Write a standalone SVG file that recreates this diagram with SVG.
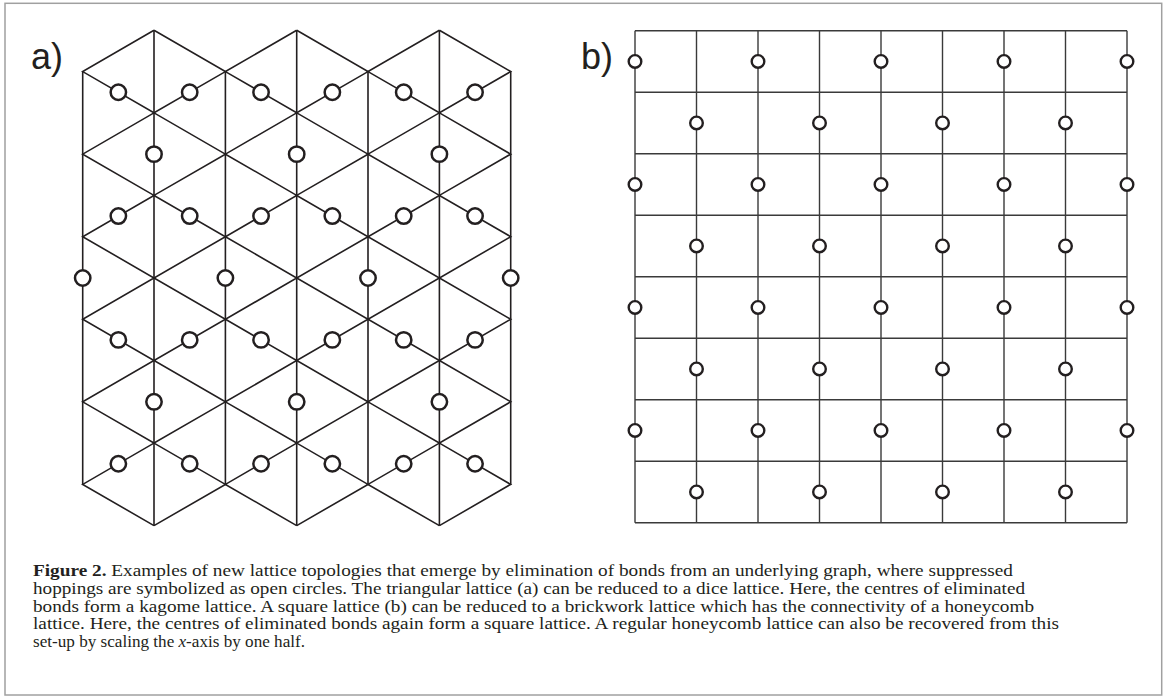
<svg xmlns="http://www.w3.org/2000/svg" width="1168" height="697" viewBox="0 0 1168 697">
<style>
.frame{fill:none;stroke:#a0a0a0;stroke-width:1.5}
.la{fill:none;stroke:#231f20;stroke-width:1.6;stroke-linejoin:miter}
.lb{fill:none;stroke:#3a3a3a;stroke-width:1.4}
.ca{fill:#fff;stroke:#231f20;stroke-width:2.5}
.cb{fill:#fff;stroke:#231f20;stroke-width:2.4}
.lbl{font-family:"Liberation Sans",Arial,sans-serif;font-size:36px;fill:#231f20}
.cap{font-family:"Liberation Serif","Times New Roman",serif;font-size:16.8px;fill:#231f20}
</style>
<rect class="frame" x="5" y="3.3" width="1156.7" height="691.7"/>
<g id="label-a"><text class="lbl" x="31" y="69">a)</text></g>
<g id="label-b"><text class="lbl" x="581" y="69">b)</text></g>
<g id="panel-a-bonds">
<path class="la" d="M82.7 71.58V484.38M154 30.3V525.66M225.4 71.58V484.38M296.7 30.3V525.66M368 71.58V484.38M439.4 30.3V525.66M510.7 71.58V484.38"/>
<polyline class="la" points="154,30.3 82.7,71.58 154,112.86 82.7,154.14 154,195.42 82.7,236.7 154,277.98 82.7,319.26 154,360.54 82.7,401.82 154,443.1 82.7,484.38 154,525.66"/>
<polyline class="la" points="154,30.3 225.4,71.58 154,112.86 225.4,154.14 154,195.42 225.4,236.7 154,277.98 225.4,319.26 154,360.54 225.4,401.82 154,443.1 225.4,484.38 154,525.66"/>
<polyline class="la" points="296.7,30.3 225.4,71.58 296.7,112.86 225.4,154.14 296.7,195.42 225.4,236.7 296.7,277.98 225.4,319.26 296.7,360.54 225.4,401.82 296.7,443.1 225.4,484.38 296.7,525.66"/>
<polyline class="la" points="296.7,30.3 368,71.58 296.7,112.86 368,154.14 296.7,195.42 368,236.7 296.7,277.98 368,319.26 296.7,360.54 368,401.82 296.7,443.1 368,484.38 296.7,525.66"/>
<polyline class="la" points="439.4,30.3 368,71.58 439.4,112.86 368,154.14 439.4,195.42 368,236.7 439.4,277.98 368,319.26 439.4,360.54 368,401.82 439.4,443.1 368,484.38 439.4,525.66"/>
<polyline class="la" points="439.4,30.3 510.7,71.58 439.4,112.86 510.7,154.14 439.4,195.42 510.7,236.7 439.4,277.98 510.7,319.26 439.4,360.54 510.7,401.82 439.4,443.1 510.7,484.38 439.4,525.66"/>
</g>
<g id="panel-a-circles">
<circle class="ca" cx="118.35" cy="92.22" r="7.7"/><circle class="ca" cx="189.7" cy="92.22" r="7.7"/><circle class="ca" cx="261.05" cy="92.22" r="7.7"/><circle class="ca" cx="332.35" cy="92.22" r="7.7"/><circle class="ca" cx="403.7" cy="92.22" r="7.7"/><circle class="ca" cx="475.05" cy="92.22" r="7.7"/>
<circle class="ca" cx="154" cy="154.14" r="7.7"/><circle class="ca" cx="296.7" cy="154.14" r="7.7"/><circle class="ca" cx="439.4" cy="154.14" r="7.7"/>
<circle class="ca" cx="118.35" cy="216.06" r="7.7"/><circle class="ca" cx="189.7" cy="216.06" r="7.7"/><circle class="ca" cx="261.05" cy="216.06" r="7.7"/><circle class="ca" cx="332.35" cy="216.06" r="7.7"/><circle class="ca" cx="403.7" cy="216.06" r="7.7"/><circle class="ca" cx="475.05" cy="216.06" r="7.7"/>
<circle class="ca" cx="82.7" cy="277.98" r="7.7"/><circle class="ca" cx="225.4" cy="277.98" r="7.7"/><circle class="ca" cx="368" cy="277.98" r="7.7"/><circle class="ca" cx="510.7" cy="277.98" r="7.7"/>
<circle class="ca" cx="118.35" cy="339.9" r="7.7"/><circle class="ca" cx="189.7" cy="339.9" r="7.7"/><circle class="ca" cx="261.05" cy="339.9" r="7.7"/><circle class="ca" cx="332.35" cy="339.9" r="7.7"/><circle class="ca" cx="403.7" cy="339.9" r="7.7"/><circle class="ca" cx="475.05" cy="339.9" r="7.7"/>
<circle class="ca" cx="154" cy="401.82" r="7.7"/><circle class="ca" cx="296.7" cy="401.82" r="7.7"/><circle class="ca" cx="439.4" cy="401.82" r="7.7"/>
<circle class="ca" cx="118.35" cy="463.74" r="7.7"/><circle class="ca" cx="189.7" cy="463.74" r="7.7"/><circle class="ca" cx="261.05" cy="463.74" r="7.7"/><circle class="ca" cx="332.35" cy="463.74" r="7.7"/><circle class="ca" cx="403.7" cy="463.74" r="7.7"/><circle class="ca" cx="475.05" cy="463.74" r="7.7"/>
</g>
<g id="panel-b-bonds">
<path class="lb" d="M635 30.7V522.7M696.5 30.7V522.7M758 30.7V522.7M819.5 30.7V522.7M881 30.7V522.7M942.5 30.7V522.7M1004 30.7V522.7M1065.5 30.7V522.7M1127 30.7V522.7"/>
<path class="lb" d="M635 30.7H1127M635 92.2H1127M635 153.7H1127M635 215.2H1127M635 276.7H1127M635 338.2H1127M635 399.7H1127M635 461.2H1127M635 522.7H1127"/>
</g>
<g id="panel-b-circles">
<circle class="cb" cx="635" cy="61.45" r="6.3"/><circle class="cb" cx="758" cy="61.45" r="6.3"/><circle class="cb" cx="881" cy="61.45" r="6.3"/><circle class="cb" cx="1004" cy="61.45" r="6.3"/><circle class="cb" cx="1127" cy="61.45" r="6.3"/>
<circle class="cb" cx="696.5" cy="122.95" r="6.3"/><circle class="cb" cx="819.5" cy="122.95" r="6.3"/><circle class="cb" cx="942.5" cy="122.95" r="6.3"/><circle class="cb" cx="1065.5" cy="122.95" r="6.3"/>
<circle class="cb" cx="635" cy="184.45" r="6.3"/><circle class="cb" cx="758" cy="184.45" r="6.3"/><circle class="cb" cx="881" cy="184.45" r="6.3"/><circle class="cb" cx="1004" cy="184.45" r="6.3"/><circle class="cb" cx="1127" cy="184.45" r="6.3"/>
<circle class="cb" cx="696.5" cy="245.95" r="6.3"/><circle class="cb" cx="819.5" cy="245.95" r="6.3"/><circle class="cb" cx="942.5" cy="245.95" r="6.3"/><circle class="cb" cx="1065.5" cy="245.95" r="6.3"/>
<circle class="cb" cx="635" cy="307.45" r="6.3"/><circle class="cb" cx="758" cy="307.45" r="6.3"/><circle class="cb" cx="881" cy="307.45" r="6.3"/><circle class="cb" cx="1004" cy="307.45" r="6.3"/><circle class="cb" cx="1127" cy="307.45" r="6.3"/>
<circle class="cb" cx="696.5" cy="368.95" r="6.3"/><circle class="cb" cx="819.5" cy="368.95" r="6.3"/><circle class="cb" cx="942.5" cy="368.95" r="6.3"/><circle class="cb" cx="1065.5" cy="368.95" r="6.3"/>
<circle class="cb" cx="635" cy="430.45" r="6.3"/><circle class="cb" cx="758" cy="430.45" r="6.3"/><circle class="cb" cx="881" cy="430.45" r="6.3"/><circle class="cb" cx="1004" cy="430.45" r="6.3"/><circle class="cb" cx="1127" cy="430.45" r="6.3"/>
<circle class="cb" cx="696.5" cy="491.95" r="6.3"/><circle class="cb" cx="819.5" cy="491.95" r="6.3"/><circle class="cb" cx="942.5" cy="491.95" r="6.3"/><circle class="cb" cx="1065.5" cy="491.95" r="6.3"/>
</g>
<g id="caption">
<text class="cap" x="33" y="576" textLength="980" lengthAdjust="spacingAndGlyphs"><tspan font-weight="bold">Figure 2.</tspan> Examples of new lattice topologies that emerge by elimination of bonds from an underlying graph, where suppressed</text>
<text class="cap" x="33" y="593.8" textLength="992" lengthAdjust="spacingAndGlyphs">hoppings are symbolized as open circles. The triangular lattice (a) can be reduced to a dice lattice. Here, the centres of eliminated</text>
<text class="cap" x="33" y="611.6" textLength="1001" lengthAdjust="spacingAndGlyphs">bonds form a kagome lattice. A square lattice (b) can be reduced to a brickwork lattice which has the connectivity of a honeycomb</text>
<text class="cap" x="33" y="629.4" textLength="1026" lengthAdjust="spacingAndGlyphs">lattice. Here, the centres of eliminated bonds again form a square lattice. A regular honeycomb lattice can also be recovered from this</text>
<text class="cap" x="33" y="647.2" textLength="272" lengthAdjust="spacingAndGlyphs">set-up by scaling the <tspan font-style="italic">x</tspan>-axis by one half.</text>
</g>
</svg>
